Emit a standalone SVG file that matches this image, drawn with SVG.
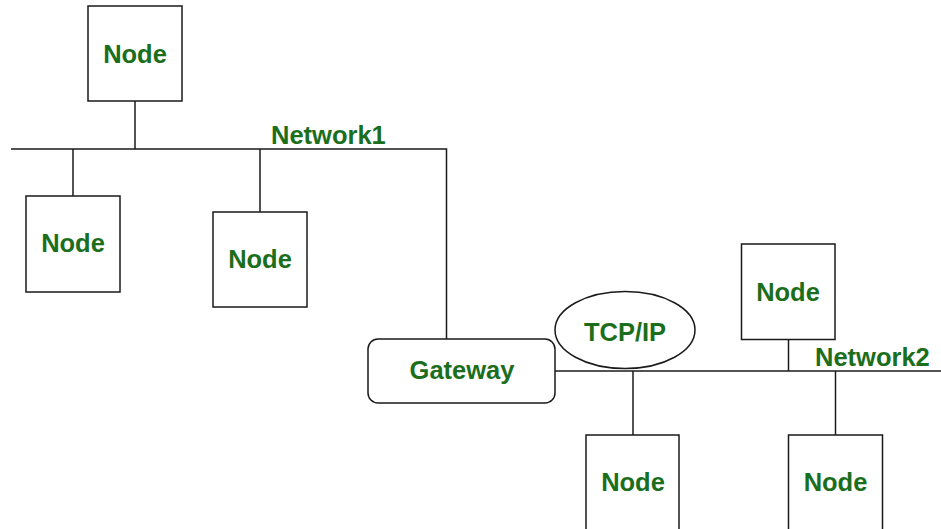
<svg xmlns="http://www.w3.org/2000/svg" width="941" height="529" viewBox="0 0 941 529">
  <style>
    .box { fill: #ffffff; stroke: #1a1a1a; stroke-width: 1.5; }
    .wire { fill: none; stroke: #1a1a1a; stroke-width: 1.5; }
    .lbl { font-family: "Liberation Sans", Arial, sans-serif; font-weight: bold; font-size: 25.5px; fill: #1b6e1b; text-anchor: middle; }
    .net { text-anchor: start; }
  </style>
  <rect width="941" height="529" fill="#ffffff"/>

  <!-- connectors: network buses and drops -->
  <g id="connectors">
    <!-- Network1 bus, turning down to the gateway -->
    <polyline class="wire" points="11,149 446.5,149 446.5,339"/>
    <line class="wire" x1="135" y1="101" x2="135" y2="149"/>
    <line class="wire" x1="73" y1="149" x2="73" y2="196"/>
    <line class="wire" x1="260" y1="149" x2="260" y2="212"/>
    <!-- Network2 bus -->
    <line class="wire" x1="555" y1="371" x2="941" y2="371"/>
    <line class="wire" x1="788.5" y1="339" x2="788.5" y2="371"/>
    <line class="wire" x1="633" y1="371" x2="633" y2="435"/>
    <line class="wire" x1="835.5" y1="371" x2="835.5" y2="435"/>
  </g>

  <g id="label-network1">
    <text class="lbl net" x="271" y="144">Network1</text>
  </g>
  <g id="label-network2">
    <text class="lbl net" x="815" y="366">Network2</text>
  </g>

  <g id="node-top">
    <rect class="box" x="88" y="6" width="94" height="95"/>
    <text class="lbl" x="135" y="63">Node</text>
  </g>
  <g id="node-left">
    <rect class="box" x="26" y="196" width="94" height="96"/>
    <text class="lbl" x="73" y="252">Node</text>
  </g>
  <g id="node-middle">
    <rect class="box" x="213" y="212" width="94" height="95"/>
    <text class="lbl" x="260" y="268">Node</text>
  </g>

  <g id="gateway">
    <rect class="box" x="368" y="339" width="187" height="64" rx="10" ry="10"/>
    <text class="lbl" x="462" y="379">Gateway</text>
  </g>

  <g id="tcpip">
    <ellipse class="box" cx="625" cy="330" rx="70" ry="38.5"/>
    <text class="lbl" x="625" y="341">TCP/IP</text>
  </g>

  <g id="node-upper-right">
    <rect class="box" x="741.5" y="244" width="93.5" height="95.5"/>
    <text class="lbl" x="788" y="301">Node</text>
  </g>
  <g id="node-bottom-middle">
    <rect class="box" x="586" y="435" width="93" height="100"/>
    <text class="lbl" x="633" y="491">Node</text>
  </g>
  <g id="node-bottom-right">
    <rect class="box" x="788.5" y="435" width="94" height="100"/>
    <text class="lbl" x="835.5" y="491">Node</text>
  </g>
</svg>
